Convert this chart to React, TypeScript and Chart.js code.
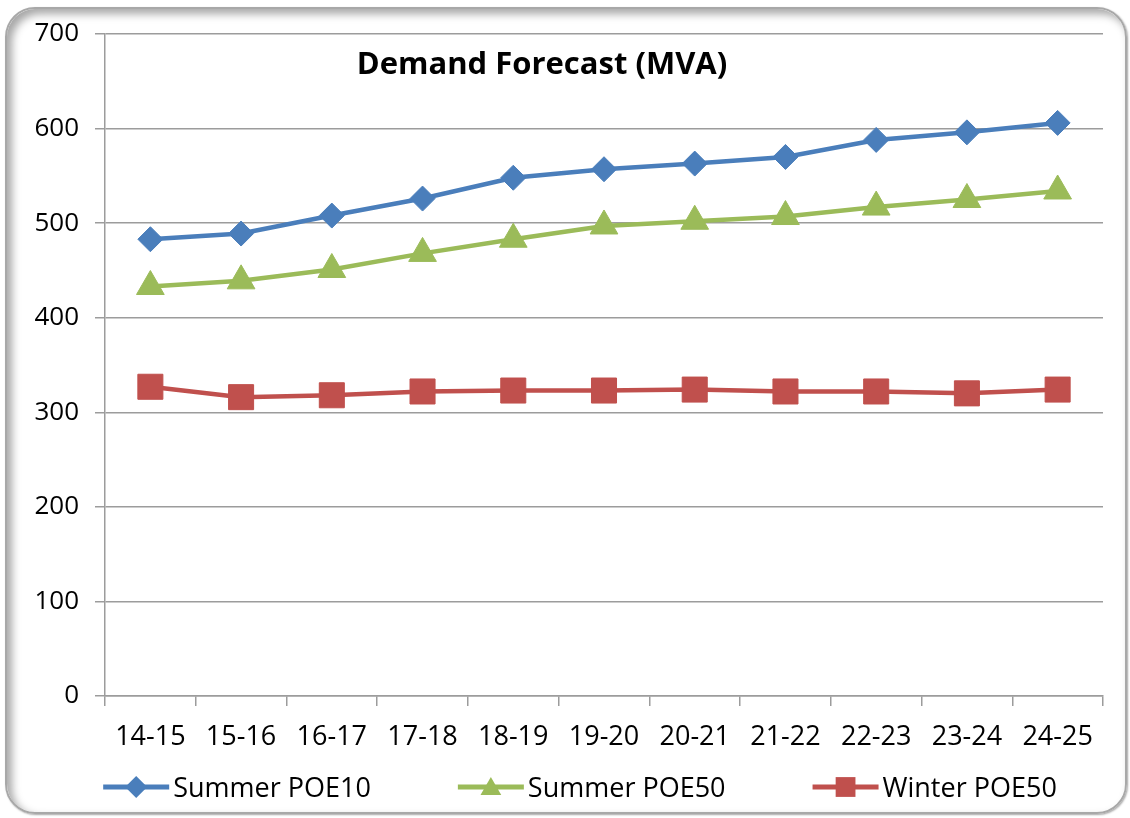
import React, { useEffect, useRef } from "react";
import { Chart, registerables } from "chart.js";

Chart.register(...registerables);

const categories = ["14-15", "15-16", "16-17", "17-18", "18-19", "19-20", "20-21", "21-22", "22-23", "23-24", "24-25"];
const summerPOE10 = [483, 489, 508, 526, 548, 557, 563, 570, 588, 596, 606];
const summerPOE50 = [433, 439, 451, 468, 483, 497, 502, 507, 517, 525, 534];
const winterPOE50 = [327, 316, 318, 322, 323, 323, 324, 322, 322, 320, 324];
const seriesNames = ["Summer POE10", "Summer POE50", "Winter POE50"];
const seriesColors = ["#4A7EBB", "#9BBB59", "#C0504D"];
const titleText = "Demand Forecast (MVA)";
const yMin = 0;
const yMax = 700;
const yStep = 100;

const FONT = "'Open Sans', 'Noto Sans', sans-serif";
const GRID = "#9c9c9c";

function drawMarker(ctx: CanvasRenderingContext2D, style: string, x: number, y: number, r: number, color: string) {
  ctx.save();
  ctx.fillStyle = color;
  ctx.beginPath();
  if (style === "rectRot") {
    ctx.moveTo(x - r, y);
    ctx.lineTo(x, y - r);
    ctx.lineTo(x + r, y);
    ctx.lineTo(x, y + r);
    ctx.closePath();
  } else if (style === "rect") {
    const s = r * Math.SQRT1_2;
    ctx.rect(x - s, y - s, 2 * s, 2 * s);
  } else {
    ctx.moveTo(x, y - r);
    ctx.lineTo(x + r * Math.sin((2 * Math.PI) / 3), y + r / 2);
    ctx.lineTo(x - r * Math.sin((2 * Math.PI) / 3), y + r / 2);
    ctx.closePath();
  }
  ctx.fill();
  ctx.restore();
}

const titlePlugin = {
  id: "innerTitle",
  afterDraw(chart: any) {
    const { ctx, chartArea } = chart;
    ctx.save();
    ctx.font = `bold 31px ${FONT}`;
    ctx.fillStyle = "#000";
    ctx.textAlign = "center";
    ctx.textBaseline = "alphabetic";
    ctx.fillText(titleText, chartArea.left + 437, chartArea.top + 40);
    ctx.restore();
  },
};

const legendPlugin = {
  id: "lineLegend",
  afterDraw(chart: any) {
    const { ctx } = chart;
    const lineLen = 66;
    const gapText = 4;
    const itemGap = 87;
    const centerX = 580;
    const lineY = 787;
    const baseY = 797;
    ctx.save();
    ctx.font = `27px ${FONT}`;
    const ds = chart.data.datasets;
    const widths = ds.map((d: any) => lineLen + gapText + ctx.measureText(d.label).width);
    const total = widths.reduce((a: number, b: number) => a + b, 0) + itemGap * (ds.length - 1);
    let x = centerX - total / 2;
    const legendR = [11, 12, 14];
    ds.forEach((d: any, i: number) => {
      ctx.strokeStyle = d.borderColor;
      ctx.lineWidth = 5;
      ctx.beginPath();
      ctx.moveTo(x, lineY);
      ctx.lineTo(x + lineLen, lineY);
      ctx.stroke();
      drawMarker(ctx, d.pointStyle, x + lineLen / 2, lineY + (d.pointStyle === "triangle" ? 2 : 0), legendR[i], d.borderColor);
      ctx.fillStyle = "#000";
      ctx.textAlign = "left";
      ctx.textBaseline = "alphabetic";
      ctx.fillText(d.label, x + lineLen + gapText, baseY);
      x += widths[i] + itemGap;
    });
    ctx.restore();
  },
};

export default function App() {
  const ref = useRef<HTMLCanvasElement | null>(null);

  useEffect(() => {
    if (!ref.current) return;
    const chart = new Chart(ref.current, {
      type: "line",
      data: {
        labels: categories,
        datasets: [
          {
            label: seriesNames[0],
            data: summerPOE10,
            borderColor: seriesColors[0],
            backgroundColor: seriesColors[0],
            borderWidth: 4.5,
            pointStyle: "rectRot",
            pointRadius: 12.5,
            pointBorderWidth: 1,
            tension: 0,
          },
          {
            label: seriesNames[1],
            data: summerPOE50,
            borderColor: seriesColors[1],
            backgroundColor: seriesColors[1],
            borderWidth: 4.5,
            pointStyle: "triangle",
            pointRadius: 16,
            pointBorderWidth: 1,
            tension: 0,
          },
          {
            label: seriesNames[2],
            data: winterPOE50,
            borderColor: seriesColors[2],
            backgroundColor: seriesColors[2],
            borderWidth: 4.5,
            pointStyle: "rect",
            pointRadius: 17.7,
            pointBorderWidth: 1,
            tension: 0,
          },
        ],
      },
      options: {
        responsive: false,
        animation: false,
        devicePixelRatio: 1,
        layout: { padding: { left: 0, right: 27, top: 34, bottom: 62 } },
        plugins: {
          legend: { display: false },
          title: { display: false },
          tooltip: { enabled: false },
        },
        scales: {
          x: {
            offset: true,
            grid: {
              display: true,
              offset: true,
              drawOnChartArea: false,
              drawTicks: true,
              tickLength: 10,
              color: GRID,
              lineWidth: 1.5,
            },
            border: { display: true, color: GRID, width: 1.5 },
            ticks: { color: "#000", font: { family: FONT, size: 27 }, padding: 15, maxRotation: 0, autoSkip: false },
            afterFit: (s: any) => {
              s.height = 60;
            },
          },
          y: {
            min: yMin,
            max: yMax,
            ticks: { stepSize: yStep, color: "#000", font: { family: FONT, size: 26 }, padding: 16 },
            grid: { color: GRID, lineWidth: 1.5, tickLength: 10, drawTicks: true },
            border: { display: true, color: GRID, width: 1.5 },
            afterFit: (s: any) => {
              s.width = 105;
            },
          },
        },
      },
      plugins: [titlePlugin, legendPlugin],
    });
    return () => chart.destroy();
  }, []);

  return (
    <div style={{ position: "absolute", left: 0, top: 0, width: 1130, height: 818, background: "#fff", overflow: "hidden" }}>
      <div
        style={{
          position: "absolute",
          left: 5,
          top: 7,
          width: 1122,
          height: 807,
          boxSizing: "border-box",
          border: "2px solid #a8a8a8",
          borderRadius: 30,
          boxShadow: "inset 5px 5px 8px rgba(0,0,0,0.35), 1px 1px 2px rgba(0,0,0,0.35)",
        }}
      />
      <canvas ref={ref} width={1130} height={818} style={{ position: "absolute", left: 0, top: 0 }} />
    </div>
  );
}
